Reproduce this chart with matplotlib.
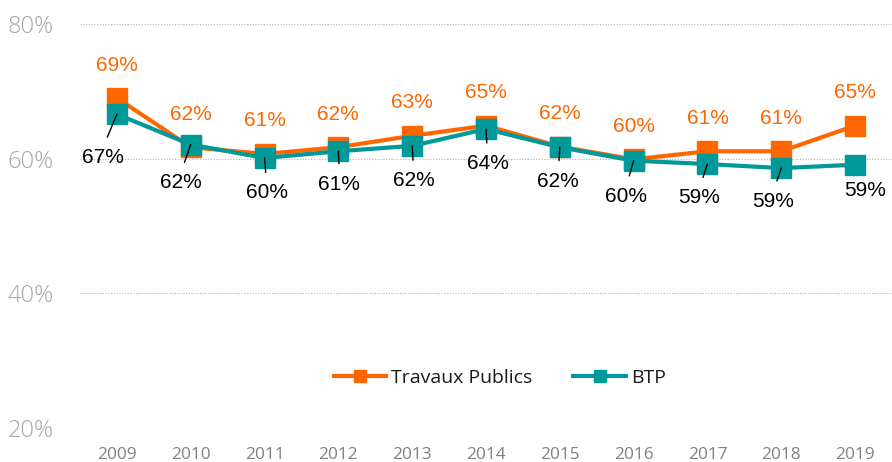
import numpy as np
import matplotlib
matplotlib.use("Agg")
import matplotlib.pyplot as plt

# data
years = [2009, 2010, 2011, 2012, 2013, 2014, 2015, 2016, 2017, 2018, 2019]
travaux_publics = [69.0, 61.7, 60.7, 61.7, 63.4, 64.9, 61.8, 59.9, 61.1, 61.1, 64.9]
btp = [66.6, 62.1, 60.1, 61.1, 61.9, 64.4, 61.7, 59.7, 59.2, 58.6, 59.1]
yticks = [20, 40, 60, 80]

# layout of the BTP labels (pixel offsets from the marker, image y down) and leader lines
btp_label_offsets = [(-14, 43), (-10, 38), (2, 35), (1, 33), (1.5, 35), (1.5, 34.5),
                     (-1.5, 34), (-7.5, 35.5), (-8, 33.5), (-8, 33), (10, 26)]
btp_leader = [True] * 10 + [False]

ORANGE = '#FF6600'
TEAL = '#009999'
UI_FONT = ['Open Sans', 'DejaVu Sans']
LABEL_FONT = ['Liberation Sans', 'DejaVu Sans']

fig = plt.figure(figsize=(8.92, 4.62), dpi=100)
ax = fig.add_axes([80 / 892, 34 / 462, 812 / 892, 404 / 462])

ax.plot(years, travaux_publics, color=ORANGE, lw=3, marker='s', ms=13.7,
        label='Travaux Publics', zorder=3)
ax.plot(years, btp, color=TEAL, lw=3, marker='s', ms=13.7, label='BTP', zorder=4)

# orange labels above
for x, v in zip(years, travaux_publics):
    ax.annotate(f'{v:.0f}%', (x, v), xytext=(0, 33), textcoords='offset pixels',
                ha='center', va='center', color=ORANGE, fontsize=15,
                family=LABEL_FONT, zorder=6)

# teal labels below with leader lines
for x, v, (dx, dy), lead in zip(years, btp, btp_label_offsets, btp_leader):
    arrow = None
    if lead:
        arrow = dict(arrowstyle='-', color='black', lw=1, shrinkA=6, shrinkB=0,
                     relpos=(0.5, 1.0))
    ax.annotate(f'{v:.0f}%', (x, v), xytext=(dx, -dy), textcoords='offset pixels',
                ha='center', va='center', color='black', fontsize=15,
                family=LABEL_FONT, arrowprops=arrow, zorder=6)

ax.set_xlim(2008.5, 2019.5)
ax.set_ylim(20, 80)
ax.set_xticks(years)
ax.set_xticklabels([str(y) for y in years], family=UI_FONT, fontsize=12.4, color='#808080')
ax.set_yticks(yticks)
ax.set_yticklabels([f'{t}%' for t in yticks], family=UI_FONT, fontsize=17,
                   fontweight='light', color='#a6a6a6')
ax.tick_params(axis='both', length=0)
ax.tick_params(axis='x', pad=14)
ax.tick_params(axis='y', pad=19)
ax.grid(axis='y', color='#b3b3b3', linestyle=(0, (1, 1.5)), lw=0.8)
ax.set_axisbelow(True)
for s in ax.spines.values():
    s.set_visible(False)

leg = ax.legend(loc='center', bbox_to_anchor=(0.517, 0.1245), ncol=2, frameon=False,
                prop={'family': UI_FONT, 'size': 14}, markerscale=0.63,
                handlelength=2.7, handletextpad=0.26, columnspacing=2.1)
for t in leg.get_texts():
    t.set_color('#1a1a1a')

fig.savefig('out.png', dpi=100)
